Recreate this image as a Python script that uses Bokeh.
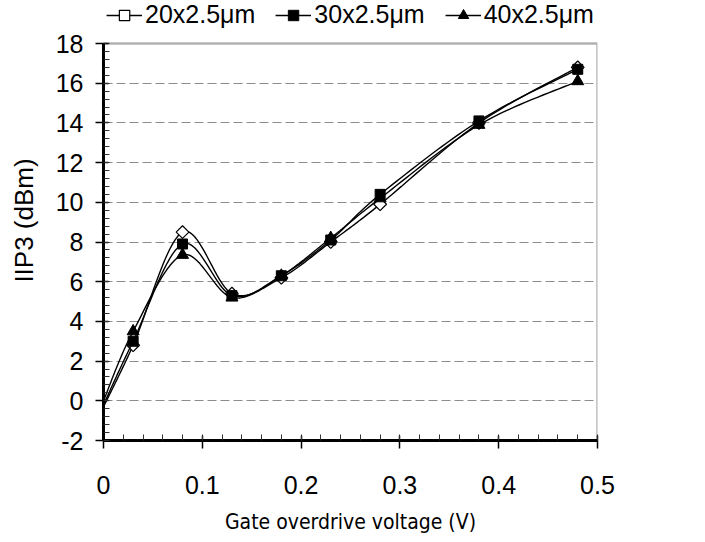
import numpy as np
from bokeh.plotting import figure
from bokeh.models import (FixedTicker, CustomJSTickFormatter, Legend, LegendItem, Range1d,
                          BoxAnnotation)
from bokeh.embed import file_html
from bokeh.resources import INLINE

# ---- data ----
x_vals = [0.0, 0.03, 0.08, 0.13, 0.18, 0.23, 0.28, 0.38, 0.48]
iip3_20 = [-0.3, 2.8, 8.5, 5.4, 6.2, 8.0, 9.9, 14.0, 16.8]
iip3_30 = [-0.2, 3.0, 7.9, 5.3, 6.3, 8.1, 10.4, 14.1, 16.7]
iip3_40 = [0.0, 3.5, 7.35, 5.2, 6.3, 8.2, 10.2, 13.9, 16.1]
series_names = ["20x2.5\u03bcm", "30x2.5\u03bcm", "40x2.5\u03bcm"]
x_ticks = [0, 0.1, 0.2, 0.3, 0.4, 0.5]
y_ticks = [-2, 0, 2, 4, 6, 8, 10, 12, 14, 16, 18]
x_lo, x_hi = 0, 0.5
y_lo, y_hi = -2, 18


def smooth(xs, ys, n=20):
    """Catmull-Rom (Excel-like) smoothing through the data points."""
    xs = np.asarray(xs, float)
    ys = np.asarray(ys, float)
    px = np.concatenate([[xs[0]], xs, [xs[-1]]])
    py = np.concatenate([[ys[0]], ys, [ys[-1]]])
    ox, oy = [], []
    for i in range(1, len(px) - 2):
        p0x, p1x, p2x, p3x = px[i - 1], px[i], px[i + 1], px[i + 2]
        p0y, p1y, p2y, p3y = py[i - 1], py[i], py[i + 1], py[i + 2]
        c1x, c1y = p1x + (p2x - p0x) / 6, p1y + (p2y - p0y) / 6
        c2x, c2y = p2x - (p3x - p1x) / 6, p2y - (p3y - p1y) / 6
        t = np.linspace(0, 1, n, endpoint=(i == len(px) - 3))
        b0 = (1 - t) ** 3
        b1 = 3 * (1 - t) ** 2 * t
        b2 = 3 * (1 - t) * t ** 2
        b3 = t ** 3
        ox.extend(b0 * p1x + b1 * c1x + b2 * c2x + b3 * p2x)
        oy.extend(b0 * p1y + b1 * c1y + b2 * c2y + b3 * p2y)
    return ox, oy


# plot box is 397px tall; 43px of headroom above it holds the legend
PLOT_H, HEAD = 397, 43
y_top = y_hi + HEAD * (y_hi - y_lo) / PLOT_H

p = figure(frame_width=494, frame_height=PLOT_H + HEAD, output_backend="svg", toolbar_location=None,
           x_range=Range1d(x_lo, x_hi), y_range=Range1d(y_lo, y_top),
           min_border_left=103, min_border_right=108, min_border_top=0, min_border_bottom=102)
p.background_fill_color = "white"
p.border_fill_color = "white"
p.outline_line_color = None

p.xgrid.visible = False
p.ygrid.ticker = FixedTicker(ticks=y_ticks[1:-1])
p.ygrid.grid_line_color = "#8c8c8c"
p.ygrid.grid_line_dash = "9 4"
p.ygrid.grid_line_width = 1

p.add_layout(BoxAnnotation(left=x_lo, right=x_hi, bottom=y_lo, top=y_hi,
                           fill_alpha=0, line_color="black", line_width=2.5))

p.xaxis.ticker = FixedTicker(ticks=x_ticks, minor_ticks=list(np.round(np.arange(0, 0.5001, 0.02), 3)))
p.yaxis.ticker = FixedTicker(ticks=y_ticks, minor_ticks=list(np.round(np.arange(-2, 18.001, 0.4), 2)))
p.yaxis.bounds = (y_lo, y_hi)
p.xaxis.formatter = CustomJSTickFormatter(code="return String(Math.round(tick*10)/10)")
p.yaxis.formatter = CustomJSTickFormatter(code="return String(Math.round(tick))")

for ax in (p.xaxis[0], p.yaxis[0]):
    ax.axis_line_width = 3
    ax.axis_line_color = "black"
    ax.major_tick_line_color = "black"
    ax.major_tick_line_width = 1.5
    ax.minor_tick_line_color = "#333333"
    ax.minor_tick_line_width = 1
    ax.major_tick_out = 8
    ax.major_tick_in = 5
    ax.minor_tick_out = 0
    ax.minor_tick_in = 6
    ax.major_label_text_font = "Liberation Sans"
    ax.major_label_text_font_size = "25px"
    ax.major_label_text_color = "black"
    ax.axis_label_text_font_style = "normal"
    ax.axis_label_text_color = "black"

p.xaxis.axis_label = "Gate overdrive voltage (V)"
p.xaxis.axis_label_text_font = "DejaVu Sans Condensed"
p.xaxis.axis_label_text_font_size = "21px"
p.xaxis.major_label_standoff = 27
p.xaxis.axis_label_standoff = 13

p.yaxis.axis_label = "IIP3 (dBm)"
p.yaxis.axis_label_text_font = "Liberation Sans"
p.yaxis.axis_label_text_font_size = "26px"
p.yaxis.major_label_standoff = 12
p.yaxis.axis_label_standoff = 14

items = []
specs = [
    (iip3_20, dict(marker="square", angle=np.pi / 4, size=9, fill_color="white", line_color="black", line_width=1.2)),
    (iip3_30, dict(marker="square", size=10, fill_color="black", line_color="black")),
    (iip3_40, dict(marker="triangle", size=12, fill_color="black", line_color="black")),
]
for name, (ys, mk) in zip(series_names, specs):
    sx, sy = smooth(x_vals, ys)
    r_line = p.line(sx, sy, line_color="black", line_width=1.4)
    r_pt = p.scatter(x_vals[1:], ys[1:], **mk)
    items.append(LegendItem(label=name, renderers=[r_line, r_pt]))

legend = Legend(items=items, orientation="horizontal", location="top_center",
                label_text_font="Liberation Sans", label_text_font_size="25px",
                label_text_color="black",
                glyph_width=36, glyph_height=26, label_standoff=3, spacing=20,
                padding=2, margin=0, border_line_color=None, background_fill_alpha=0)
p.add_layout(legend, "center")

open("out.html", "w").write(file_html(p, INLINE))
